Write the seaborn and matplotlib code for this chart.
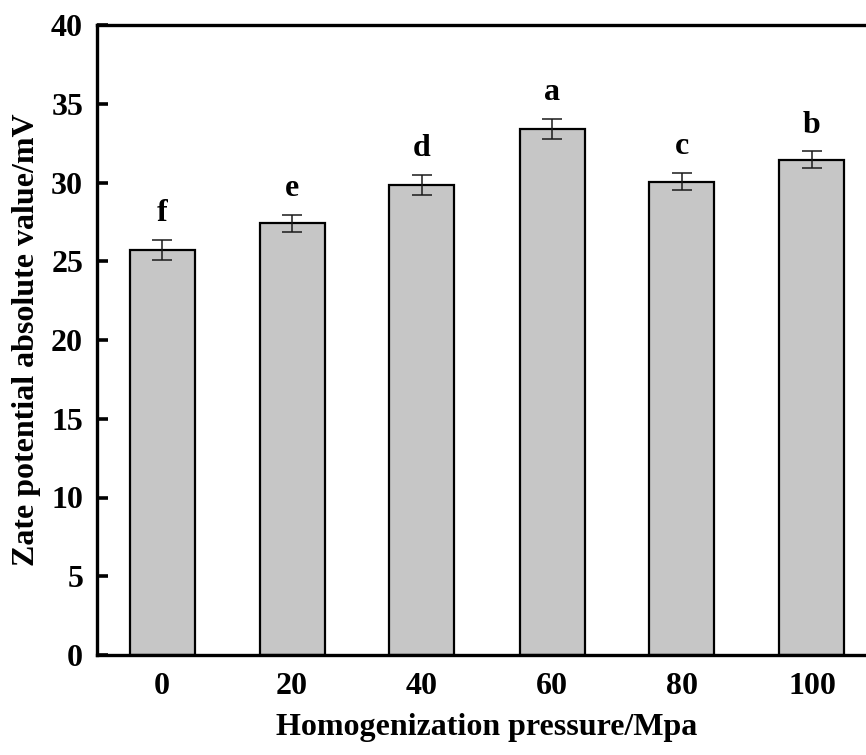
import matplotlib
matplotlib.use("Agg")
import matplotlib.pyplot as plt
import seaborn as sns
import pandas as pd

pressures = ["0", "20", "40", "60", "80", "100"]
zeta = [25.71, 27.41, 29.84, 33.42, 30.05, 31.43]
err = [0.63, 0.53, 0.62, 0.63, 0.53, 0.54]
letters = ["f", "e", "d", "a", "c", "b"]
yticks = [0, 5, 10, 15, 20, 25, 30, 35, 40]

sns.set_theme(style="ticks")
plt.rcParams["font.family"] = ["Liberation Serif", "DejaVu Serif"]
plt.rcParams["font.weight"] = "bold"
plt.rcParams["text.color"] = "black"
plt.rcParams["axes.labelcolor"] = "black"

df = pd.DataFrame({"pressure": pressures, "zeta": zeta})

fig = plt.figure(figsize=(8.66, 7.55), dpi=100)
ax = fig.add_axes([97 / 866, 100 / 755, 780 / 866, 630 / 755])

sns.barplot(data=df, x="pressure", y="zeta", order=pressures, color="#c6c6c6",
            saturation=1, width=0.5, edgecolor="black", linewidth=1.6,
            errorbar=None, ax=ax)
ax.errorbar(range(len(pressures)), zeta, yerr=err, fmt="none", ecolor="#1a1a1a",
            elinewidth=1.1, capsize=7, capthick=1.1)

for i, (v, e, t) in enumerate(zip(zeta, err, letters)):
    ax.text(i, v + e + 1.2, t, ha="center", va="baseline", fontsize=23,
            fontweight="bold", color="black")

ax.set_xlim(-0.5, 5.5)
ax.set_ylim(0, 40)
ax.set_yticks(yticks)
ax.set_yticklabels([str(t) for t in yticks])

for s in ax.spines.values():
    s.set_linewidth(2.4)
    s.set_color("black")

ax.tick_params(axis="both", direction="in", length=8, width=2.6, labelsize=23,
               colors="black")
ax.tick_params(axis="x", pad=12)
ax.tick_params(axis="y", pad=10)
for lab in ax.get_xticklabels() + ax.get_yticklabels():
    lab.set_fontweight("bold")

ax.set_xlabel("Homogenization pressure/Mpa", fontsize=23, fontweight="bold",
              labelpad=9)
ax.set_ylabel("Zate potential absolute value/mV", fontsize=23, fontweight="bold",
              labelpad=7)

fig.savefig("out.png", dpi=100)
